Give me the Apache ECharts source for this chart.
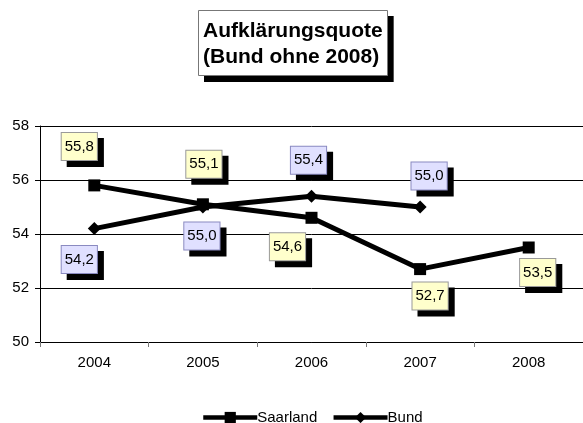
<!DOCTYPE html>
<html><head><meta charset="utf-8">
<script src="https://cdn.jsdelivr.net/npm/echarts@6/dist/echarts.min.js"></script>
<style>html,body{margin:0;padding:0;background:#fff}#c{width:583px;height:423px}</style>
</head><body><div id="c"></div>
<script>
const categories = ['2004','2005','2006','2007','2008'];
const saarland = [55.8, 55.1, 54.6, 52.7, 53.5];
const bund = [54.2, 55.0, 55.4, 55.0, null];
const yTicks = [50, 52, 54, 56, 58];
const titleLines = ['Aufklärungsquote', '(Bund ohne 2008)'];
// label placement offsets (layout only)
const saarOffsets = [[-15,-39],[1,-40],[-24,29],[10,27],[9,25]];
const bundOffsets = [[-15,31],[-1,29],[-3,-36],[9,-31],[0,0]];
const SHADOW = 6;

const FONT = '"Liberation Sans", Arial, sans-serif';
function fmt(v){ return v.toFixed(1).replace('.', ','); }
function lbl(bg, border, textColor){
  return {
    show: true, position: 'inside', color: textColor, fontFamily: FONT, fontSize: 15,
    backgroundColor: bg, borderColor: border, borderWidth: 1,
    padding: [5, 3, 4, 3], lineHeight: 18,
    formatter: p => fmt(p.value)
  };
}
function mkData(vals, offs, shift){
  return vals.map((v,i) => v === null ? null :
    ({value: v, label: {offset: [offs[i][0] + shift, offs[i][1] + shift]}}));
}
function shadowSeries(name, vals, offs){
  return {
    name: name, type: 'line', z: 1, silent: true,
    data: mkData(vals, offs, SHADOW),
    symbol: 'circle', symbolSize: 1,
    lineStyle: {opacity: 0}, itemStyle: {color: 'rgba(0,0,0,0)'},
    label: lbl('#000', '#000', 'rgba(0,0,0,0)')
  };
}
const titleBase = {text: titleLines.join('\n'), padding: [8, 5, 6, 5]};
const titleFont = {fontFamily: FONT, fontSize: 21, fontWeight: 'bold', lineHeight: 26};
const chart = echarts.init(document.getElementById('c'), null, {renderer: 'canvas'});
chart.setOption({
  animation: false,
  backgroundColor: '#fff',
  title: [
    Object.assign({}, titleBase, {
      left: 204, top: 16, z: 5,
      textStyle: Object.assign({color: 'rgba(0,0,0,0)'}, titleFont),
      backgroundColor: '#000', borderWidth: 0
    }),
    Object.assign({}, titleBase, {
      left: 198, top: 10, z: 6,
      textStyle: Object.assign({color: '#000'}, titleFont),
      backgroundColor: '#fff', borderColor: '#777', borderWidth: 1
    })
  ],
  grid: {left: 40, right: 0, top: 126, bottom: 81, containLabel: false},
  legend: {
    left: 196, top: 405, itemWidth: 54, itemHeight: 14, itemGap: 14,
    lineStyle: {width: 4.5, color: '#000'},
    textStyle: {fontFamily: FONT, fontSize: 15, color: '#000', padding: [0,0,0,-5]},
    data: ['Saarland', 'Bund']
  },
  xAxis: {
    type: 'category', data: categories, boundaryGap: true,
    axisLine: {lineStyle: {color: '#000', width: 1}},
    axisTick: {show: true, length: 5, lineStyle: {color: '#777'}},
    axisLabel: {fontFamily: FONT, fontSize: 15, color: '#000', margin: 13}
  },
  yAxis: {
    type: 'value', min: yTicks[0], max: yTicks[yTicks.length-1], interval: 2,
    axisLine: {show: true, lineStyle: {color: '#000', width: 1}},
    axisTick: {show: true, length: 5, lineStyle: {color: '#000'}},
    splitLine: {lineStyle: {color: '#000', width: 1}},
    axisLabel: {fontFamily: FONT, fontSize: 15, color: '#000', margin: 11}
  },
  series: [
    shadowSeries('Saarland-shadow', saarland, saarOffsets),
    shadowSeries('Bund-shadow', bund, bundOffsets),
    {
      name: 'Saarland', type: 'line', z: 3,
      data: mkData(saarland, saarOffsets, 0),
      symbol: 'rect', symbolSize: 12,
      lineStyle: {color: '#000', width: 5},
      itemStyle: {color: '#000'},
      label: lbl('#ffffcc', '#999999', '#000')
    },
    {
      name: 'Bund', type: 'line', z: 2,
      data: mkData(bund, bundOffsets, 0),
      symbol: 'diamond', symbolSize: 13,
      lineStyle: {color: '#000', width: 5},
      itemStyle: {color: '#000'},
      label: lbl('#e0e0ff', '#8a8ac0', '#000')
    }
  ]
});
</script></body></html>
